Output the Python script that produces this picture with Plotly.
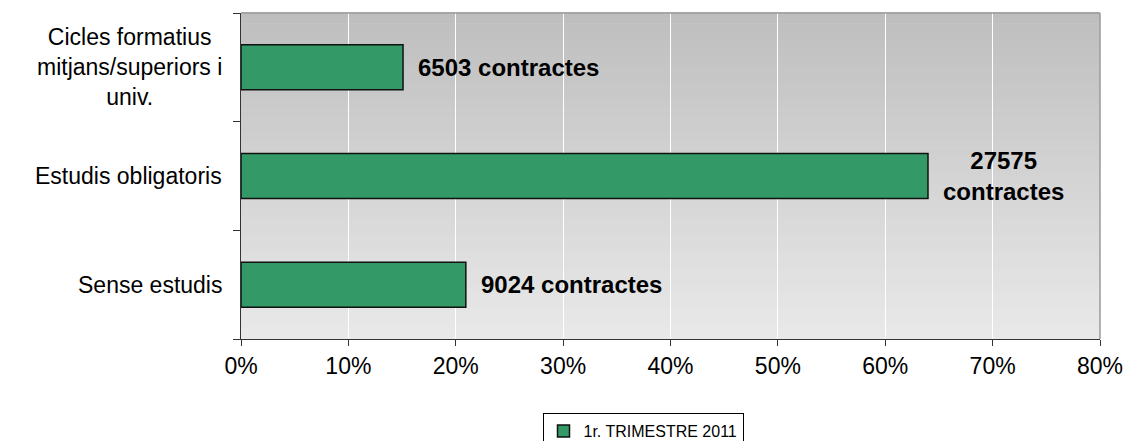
import plotly.graph_objects as go

# ---- data ----
categories = ["Sense estudis", "Estudis obligatoris",
              "Cicles formatius<br>mitjans/superiors i<br>univ."]
percent_values = [20.94, 63.98, 15.09]
contracts = [9024, 27575, 6503]
bar_labels = ["9024 contractes", "27575<br>contractes", "6503 contractes"]
x_tick_values = [0, 10, 20, 30, 40, 50, 60, 70, 80]
x_tick_labels = ["0%", "10%", "20%", "30%", "40%", "50%", "60%", "70%", "80%"]
series_name = "1r. TRIMESTRE 2011"

FONT = "Liberation Sans, Arial, sans-serif"
BAR_COLOR = "#339966"

# the page body has an 8px margin, so the figure is made 8px smaller
W, H = 1127, 433

fig = go.Figure()
fig.add_trace(go.Bar(
    x=percent_values,
    y=categories,
    orientation="h",
    name=series_name,
    marker=dict(color=BAR_COLOR, line=dict(color="#111111", width=1.5)),
    showlegend=True,
    hoverinfo="skip",
))

shapes = []
# vertical gradient background of the plot area
N = 60
top = (190, 190, 190)
bot = (233, 233, 233)
for i in range(N):
    t = (i + 0.5) / N  # 0 bottom -> 1 top
    c = tuple(round(bot[k] + (top[k] - bot[k]) * t) for k in range(3))
    shapes.append(dict(type="rect", xref="x domain", yref="y domain",
                       x0=0, x1=1, y0=i / N, y1=(i + 1) / N + 0.002,
                       fillcolor="rgb(%d,%d,%d)" % c, line=dict(width=0),
                       layer="below"))
# top and right grey border
shapes.append(dict(type="line", xref="x domain", yref="y domain",
                   x0=0, x1=1, y0=1, y1=1, line=dict(color="#9a9a9a", width=1.5),
                   layer="above"))
shapes.append(dict(type="line", xref="x domain", yref="y domain",
                   x0=1, x1=1, y0=0, y1=1, line=dict(color="#9a9a9a", width=1.5),
                   layer="above"))

annotations = []
# value labels
for cat, val, lab in zip(categories, percent_values, bar_labels):
    annotations.append(dict(
        x=val, y=cat, xref="x", yref="y", text="<b>" + lab + "</b>",
        showarrow=False, xanchor="left", yanchor="middle", xshift=13,
        align="center", font=dict(family=FONT, size=24, color="#000000")))
# category labels (centered multi-line)
for cat in categories:
    annotations.append(dict(
        x=0, y=cat, xref="paper", yref="y", text=cat, showarrow=False,
        xanchor="right", yanchor="middle", xshift=-17, align="center",
        font=dict(family=FONT, size=23, color="#000000")))

fig.update_layout(
    width=W, height=H,
    margin=dict(l=233, r=35, t=5, b=102, pad=0, autoexpand=False),
    paper_bgcolor="white",
    plot_bgcolor="rgba(0,0,0,0)",
    bargap=0.586,
    font=dict(family=FONT, size=23, color="#000000"),
    shapes=shapes,
    annotations=annotations,
    showlegend=True,
    legend=dict(
        orientation="h", xref="container", yref="container",
        x=635 / W, xanchor="center", y=(H - 405) / H, yanchor="top",
        bgcolor="white", bordercolor="#000000", borderwidth=1,
        font=dict(family=FONT, size=16, color="#000000"),
        itemwidth=30, tracegroupgap=0,
    ),
    xaxis=dict(
        range=[0, 80], tickvals=x_tick_values, ticktext=x_tick_labels,
        showgrid=True, gridcolor="#ffffff", gridwidth=1,
        showline=True, linecolor="#333333", linewidth=1,
        ticks="outside", ticklen=6, tickcolor="#333333",
        tickfont=dict(family=FONT, size=23, color="#000000"),
        zeroline=False, fixedrange=True, automargin=False,
    ),
    yaxis=dict(
        type="category", categoryorder="array", categoryarray=categories,
        range=[-0.5, 2.5],
        showticklabels=False, tickson="boundaries",
        ticks="outside", ticklen=7, tickcolor="#333333",
        showline=True, linecolor="#333333", linewidth=1,
        showgrid=False, zeroline=False, fixedrange=True, automargin=False,
    ),
)

fig.write_html("out.html")
